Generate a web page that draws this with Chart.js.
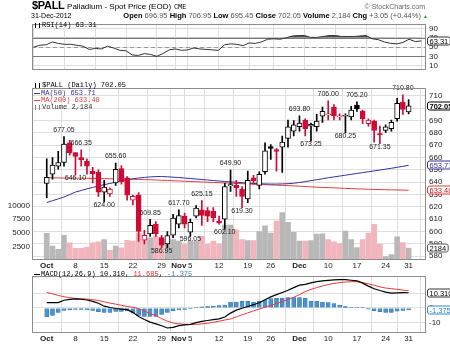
<!DOCTYPE html>
<html><head><meta charset="utf-8">
<script src="https://cdn.jsdelivr.net/npm/chart.js@4.4.0/dist/chart.umd.min.js"></script>
<style>
body{margin:0;background:#fff;width:450px;height:344px;overflow:hidden;position:relative;font-family:"Liberation Sans",Arial,sans-serif;color:#000;}
canvas{position:absolute;left:0;}
.t{position:absolute;white-space:nowrap;line-height:1;z-index:5;}
.mono{font-family:"Liberation Mono","DejaVu Sans Mono",monospace;}
.v{color:#555;font-weight:normal;}
.dash{display:inline-block;width:6px;height:0;border-top:1px solid;vertical-align:middle;margin-right:1px;}
.ico{display:inline-block;width:3px;height:5px;border-left:1px solid #000;border-right:1px solid #000;margin-right:2px;vertical-align:middle;}
</style></head><body>
<div class="t" style="left:32px;top:0px;font-size:11px;font-weight:bold;letter-spacing:-0.3px">$PALL <span style="font-size:8px;font-weight:normal;letter-spacing:0">Palladium - Spot Price (EOD)</span> <span class="mono" style="font-size:7px;font-weight:normal;letter-spacing:0">CME</span></div>
<div class="t" style="right:25px;top:3px;font-size:7px;color:#666">© StockCharts.com</div>
<div class="t" style="left:31px;top:12px;font-size:7px">31-Dec-2012</div>
<div class="t" style="right:22px;top:12px;font-size:7.5px;font-weight:bold">Open <span class="v">696.95</span> High <span class="v">706.95</span> Low <span class="v">695.45</span> Close <span class="v">702.05</span> Volume <span class="v">2,184</span> Chg <span class="v">+3.05 (+0.44%)</span> <span style="color:#2a2;font-size:5px">▲</span></div>
<div class="t mono" style="left:35px;top:22px;font-size:7px"><span class="ico"></span>RSI(14) 63.31</div>
<div class="t mono" style="left:35px;top:82px;font-size:7px"><span class="ico"></span>$PALL (Daily) 702.05</div>
<div class="t mono" style="left:34px;top:90px;font-size:7px;color:#33339a"><span class="dash"></span>MA(50) 653.71</div>
<div class="t mono" style="left:34px;top:97px;font-size:7px;color:#e03c3c"><span class="dash"></span>MA(200) 633.48</div>
<div class="t mono" style="left:35px;top:104px;font-size:7px;color:#333"><span class="ico" style="border-color:#888"></span>Volume 2,184</div>
<div class="t mono" style="left:34px;top:271px;font-size:7px"><span class="dash"></span>MACD(12,26,9) 10.310, <span style="color:#e03030">11.685</span>, <span style="color:#3a86c8">-1.375</span></div>

<canvas id="rsi" width="450" height="78" style="top:0"></canvas>
<canvas id="price" width="450" height="195" style="top:80px"></canvas>
<canvas id="macd" width="450" height="76" style="top:268px"></canvas>

<script>
// ---- Data (Oct 1 - Dec 31 2012 trading days) ----
const tickIdx    = [0,5,10,15,20,23,25,30,35,39,44,49,54,59,63];
const tickLabels = ['Oct','8','15','22','29','Nov','5','12','19','26','Dec','10','17','24','31'];

const openP = [639,646.5,653,656,672,664,660,657,649,648,
  632,630.5,639.5,651,643.5,625.5,629.5,593,598,606,
  595,590,597,606,612.5,599.5,612.5,617.5,617,616.5,
  608.5,610,637,637.5,634.5,626.5,643.5,637.5,648.5,669,
  666.5,668.5,675.5,681.5,685,690.5,685.5,685,693.5,694.5,
  701,693,693.5,693,702.5,697.5,687.5,689.5,679.5,682,
  683.5,691.5,705,696.95];
const highP = [659,660,665,677.05,674,664,666.35,659,652,650,
  641.5,635.5,655.6,653.5,644.5,629.5,631.5,601,609.85,608,
  597,600,614,617.7,615,610,621,625.15,619.5,619.5,
  612.5,639,649.9,641.5,636.5,649,645.5,648.5,672,670.5,
  667.5,677.5,690.5,690,693.8,691.5,688,695,701,706,
  703,695.5,695.5,701.5,705.2,698.5,691.5,690.5,685.5,686.5,
  690.5,708,710.8,706.95];
const lowP = [627.5,642.5,650.5,653,662,646.1,653,646.5,639.5,628.5,
  624,628.5,637.5,638.5,625.5,621.5,592,590,596,596,
  586.95,587,595,603,603,596.05,611,605,608,608,
  606,602.1,632.5,628.5,619.3,623.5,638.5,634.5,646.5,658.5,
  649,648,668.5,677.5,681.5,677.5,673.25,681.5,688.5,690.5,
  690.5,690.5,680.25,690.5,697.5,687.5,685.5,672.5,671.35,680.5,
  681.5,689.5,695,695.45];
const closeP = [644,654,656,671,664,661,658,653,647,632,
  636,634.5,650.5,640.5,629.5,628.5,600,597,605,598,
  589,596.8,611,613,606,607.5,619,613,612.5,611,
  607,636.5,638,635.5,628.5,641.5,641.3,646.5,665.5,667.5,
  665,672.5,685,686.5,688,683.5,687,689.5,697.5,695.5,
  694,693.5,694,698.5,699.5,691.5,690.5,682,678.5,685,
  688.5,704,699,702.05];
const volume = [4900,2550,1960,4520,3150,2140,2140,2370,3150,3330,
  3750,1790,2550,2250,3620,3450,4930,3560,4050,4340,
  3750,3750,3750,3450,2860,3450,3450,4340,2860,3450,
  2860,6430,6430,5540,3750,3570,3570,5230,6250,4930,
  7140,8680,6900,5100,3450,3450,3570,4750,4810,3750,
  3330,2980,5300,3750,2270,3750,4930,6550,2860,640,
  1000,4270,3200,2184];
const ma50 = [623.5,625,626.5,628,630,632,633.3,634.6,635.8,637,
  638,639,640,641,642,642.8,643.4,643.9,644.3,644.6,
  644.6,644.4,644.1,643.8,643.4,643,642.6,642.2,641.8,641.4,
  641,640.6,640.3,640,639.6,639.3,639,638.8,638.6,638.5,
  638.5,638.6,638.8,639.2,639.8,640.5,641.3,642,642.8,643.6,
  644.3,645,645.7,646.4,647.1,647.8,648.5,649.2,649.9,650.6,
  651.3,652.1,652.9,653.71];
const ma200 = [643.6,643.5,643.5,643.4,643.4,643.3,643.3,643.2,643.1,643,
  642.9,642.8,642.7,642.6,642.5,642.4,642.3,642.1,642,641.8,
  641.6,641.4,641.2,641,640.8,640.6,640.4,640.2,640,639.8,
  639.6,639.4,639.2,639,638.8,638.6,638.4,638.2,638,637.8,
  637.6,637.4,637.2,637,636.8,636.5,636.2,636,635.8,635.6,
  635.4,635.2,635,634.8,634.6,634.5,634.3,634.2,634,633.9,
  633.8,633.7,633.6,633.48];
const rsi = [50,54,55,61,58,56,56,54,52,45,
  47,46,52,48,43,42,33,32,36,34,
  30,36,44,46,43,44,48,46,45,44,
  43,55,57,56,53,59,58,61,67,68,
  67,70,74,75,75,71,71,73,75,75,
  73,73,73,74,75,68,66,61,58,57,
  60,67,62,63.31];
const macd = [3.6,3.6,3.6,5.2,5.8,6.1,5.9,5.4,4.4,3.2,
  1.2,0.3,-0.4,-0.8,-1.2,-3,-5.8,-7.8,-9.6,-10.8,
  -12.1,-13.6,-13.2,-12,-11.5,-11.1,-10,-9.1,-8.5,-7.9,
  -7.4,-6.2,-3.5,-1.5,-0.2,1,2.2,3.5,5.5,7.5,
  9,10.5,12,13.8,15.5,16,17,17.8,18.3,18.7,
  19,19.2,19.2,18.8,18.3,16.8,14.8,13,11.8,10.7,
  10,10.2,10.4,10.31];
const signal = [10.5,9.6,8.5,7.6,6.9,6.5,6.3,6,5.6,5,
  4.2,3.3,2.6,1.8,1,0.5,-0.6,-2.1,-3.9,-5.2,
  -7.2,-9,-10.2,-10.8,-11.1,-11.2,-11.1,-10.8,-10.4,-9.7,
  -9,-8.2,-7.5,-6,-4.7,-3.4,-2,-0.7,0.5,1.8,
  3,4.3,5.8,7.2,9,11.1,12.6,13.8,14.9,15.9,
  16.6,17.2,17.6,17.8,17.8,17.2,16.4,15.4,14.3,13.5,
  13.1,12.6,12.1,11.685];
const hist = [-6.1,-5.1,-3,-1.6,-1.2,-1,-1,-1.4,-1.6,-2.6,
  -3,-3,-2.4,-2.4,-2,-3.6,-5.1,-5.7,-5.7,-5.7,
  -4.4,-3,-2,-1.4,-1,-0.6,0.4,0.8,1,1.2,
  1.6,2,4,4,4.4,4.4,4,4.4,5.5,6.3,
  6.5,6.7,7.1,7.1,7.1,6.5,4.6,4.4,4,3.6,
  3,2,1,0.4,0.4,0.1,-0.8,-1.8,-2.6,-3,
  -3,-2.2,-1.6,-1.375];
// high/low annotations
const hlIdx  = [3,5,6,10,12,18,20,23,25,27,31,32,34,44,46,49,52,54,58,62];
const hlVal  = [677.05,646.10,666.35,624.00,655.60,609.85,586.95,617.70,596.05,625.15,602.10,649.90,619.30,693.80,673.25,706.00,680.25,705.20,671.35,710.80];
const hlType = ['H','L','H','L','H','H','L','H','L','H','L','H','L','H','L','H','L','H','L','H'];
const priceTicks = [580,590,600,610,620,630,640,650,660,670,680,690,700,710];
const volTicks = [2500,5000,7500,10000];
const rsiTicks = [10,30,50,70,90];
const rsiLevels = [30,50,70];
const macdTicks = [-10,0,10];

// ---- derived styling ----
const N = closeP.length;
const idx = [...Array(N).keys()];
const up = idx.map(i => i === 0 || closeP[i] >= closeP[i-1]);
const hollow = idx.map(i => closeP[i] >= openP[i]);
const RED = '#d10a35';
const cCol = idx.map(i => up[i] ? '#000' : RED);
const bFill = idx.map(i => hollow[i] ? '#fff' : cCol[i]);
const vCol = idx.map(i => up[i] ? '#b8b8b8' : '#f2b4bd');
const X_MIN = -0.28, X_MAX = 63.74;
const GRID = '#dedede';
const FONT = 'Liberation Sans';

function xScale(labels, h) {
  return {
    type: 'linear', min: X_MIN, max: X_MAX,
    afterBuildTicks: s => { s.ticks = tickIdx.map(v => ({value: v})); },
    afterFit: s => { s.height = h; },
    grid: { color: GRID, drawTicks: false },
    border: { display: false },
    ticks: { display: labels, padding: 1, autoSkip: false, maxRotation: 0, color: '#222',
      font: c => ({ family: FONT, size: 8, weight: /[A-Z]/.test(tickLabels[c.index] || '') ? 'bold' : 'normal' }),
      callback: (v, i) => tickLabels[i] }
  };
}
function yRight(min, max, ticks, grid) {
  return {
    position: 'right', min, max,
    afterBuildTicks: s => { s.ticks = ticks.map(v => ({value: v})); },
    afterFit: s => { s.width = 24; },
    grid: { color: GRID, drawTicks: false, display: grid },
    border: { display: false },
    ticks: { padding: 3, autoSkip: false, color: '#222', font: { family: FONT, size: 8 }, callback: v => String(v) }
  };
}
const frame = { id: 'frame', afterDraw(ch) {
  const a = ch.chartArea, c = ch.ctx;
  c.save(); c.strokeStyle = '#8c8c8c'; c.lineWidth = 1;
  c.strokeRect(Math.round(a.left) + 0.5, Math.round(a.top) + 0.5, Math.round(a.right - a.left) - 1, Math.round(a.bottom - a.top) - 1);
  c.restore();
}};
const vbox = { id: 'vbox', afterDraw(ch, args, opts) {
  const c = ch.ctx;
  (opts.items || []).forEach(it => {
    const y = ch.scales[it.axis].getPixelForValue(it.value);
    c.save();
    c.font = (it.bold ? 'bold ' : '') + '7.5px ' + FONT;
    const w = Math.max(c.measureText(it.text).width + 4, 18);
    const x = ch.chartArea.right + 1.5;
    c.beginPath(); c.roundRect(x, Math.round(y) - 4, w, 8, 2);
    c.fillStyle = '#fff'; c.fill();
    c.strokeStyle = it.color; c.lineWidth = 1; c.stroke();
    c.fillStyle = it.textColor || '#000'; c.textBaseline = 'middle'; c.textAlign = 'left';
    c.fillText(it.text, x + 2, Math.round(y) + 0.5);
    c.restore();
  });
}};
const common = { responsive: false, animation: false, events: [],
  plugins: { legend: { display: false }, tooltip: { enabled: false } } };

// ---- RSI ----
const rsiRef = { id: 'rsiRef', beforeDatasetsDraw(ch) {
  const c = ch.ctx, a = ch.chartArea, s = ch.scales.y;
  rsiLevels.forEach(l => {
    const y = Math.round(s.getPixelForValue(l)) + 0.5;
    c.save(); c.strokeStyle = l === 50 ? '#9a9a9a' : '#7a7a7a'; c.lineWidth = 1;
    if (l === 50) c.setLineDash([4, 3]);
    c.beginPath(); c.moveTo(a.left, y); c.lineTo(a.right, y); c.stroke(); c.restore();
  });
}};
new Chart(document.getElementById('rsi'), {
  type: 'line',
  data: { datasets: [{ data: idx.map(i => ({x: i, y: rsi[i]})), borderColor: '#333', borderWidth: 1,
    pointRadius: 0, tension: 0, fill: { target: { value: 70 }, above: '#555', below: 'rgba(0,0,0,0)' } }] },
  options: { ...common, layout: { padding: { top: 24, left: 32, right: 0, bottom: 0 } },
    scales: { x: xScale(false, 0), y: yRight(0, 100, rsiTicks, true) },
    plugins: { ...common.plugins, vbox: { items: [{ axis: 'y', value: rsi[N-1], text: rsi[N-1].toFixed(2), color: '#333' }] } } },
  plugins: [rsiRef, frame, vbox]
});

// ---- Price ----
const hiLo = { id: 'hiLo', afterDatasetsDraw(ch) {
  const c = ch.ctx, xs = ch.scales.x, ys = ch.scales.y;
  c.save(); c.font = '7px ' + FONT; c.fillStyle = '#222'; c.textAlign = 'center';
  hlIdx.forEach((ix, k) => {
    const x = xs.getPixelForValue(ix), y = ys.getPixelForValue(hlVal[k]);
    if (hlType[k] === 'H') { c.textBaseline = 'bottom'; c.fillText(hlVal[k].toFixed(2), x, y - 3); }
    else { c.textBaseline = 'top'; c.fillText(hlVal[k].toFixed(2), x, y - 0.5); }
  });
  c.restore();
}};
new Chart(document.getElementById('price'), {
  type: 'bar',
  data: { datasets: [
    { type: 'bar', data: idx.map(i => ({x: i, y: [openP[i], closeP[i]]})), backgroundColor: bFill, borderColor: cCol,
      borderWidth: 1, borderSkipped: false, barThickness: 5, minBarLength: 1, grouped: false, yAxisID: 'y', order: 1 },
    { type: 'bar', data: idx.map(i => ({x: i, y: [lowP[i], highP[i]]})), backgroundColor: cCol,
      barThickness: 1, grouped: false, yAxisID: 'y', order: 2 },
    { type: 'line', data: idx.map(i => ({x: i, y: ma50[i]})), borderColor: '#33339a', borderWidth: 1, pointRadius: 0, yAxisID: 'y', order: 3 },
    { type: 'line', data: idx.map(i => ({x: i, y: ma200[i]})), borderColor: '#e03c3c', borderWidth: 1, pointRadius: 0, yAxisID: 'y', order: 3 },
    { type: 'bar', data: idx.map(i => ({x: i, y: volume[i]})), backgroundColor: vCol, barThickness: 5, grouped: false, yAxisID: 'vol', order: 5 }
  ]},
  options: { ...common, layout: { padding: { top: 3, left: 0, right: 0, bottom: 0 } },
    scales: {
      x: xScale(true, 15),
      y: yRight(576.9, 716.6, priceTicks, true),
      vol: { position: 'left', min: 0, max: 31600,
        afterBuildTicks: s => { s.ticks = volTicks.map(v => ({value: v})); },
        afterFit: s => { s.width = 32; },
        grid: { drawOnChartArea: false, drawTicks: false }, border: { display: false },
        ticks: { padding: 2, autoSkip: false, color: '#222', font: { family: FONT, size: 8 }, callback: v => String(v) } }
    },
    plugins: { ...common.plugins, vbox: { items: [
      { axis: 'y', value: closeP[N-1], text: closeP[N-1].toFixed(2), color: '#000', bold: true },
      { axis: 'y', value: ma50[N-1], text: ma50[N-1].toFixed(2), color: '#33339a', textColor: '#33339a' },
      { axis: 'y', value: ma200[N-1], text: ma200[N-1].toFixed(2), color: '#e03c3c', textColor: '#c02020' },
      { axis: 'vol', value: volume[N-1], text: String(volume[N-1]), color: '#555' }
    ] } } },
  plugins: [frame, hiLo, vbox]
});

// ---- MACD ----
new Chart(document.getElementById('macd'), {
  type: 'bar',
  data: { datasets: [
    { type: 'line', data: idx.map(i => ({x: i, y: macd[i]})), borderColor: '#000', borderWidth: 1.2, pointRadius: 0, order: 1 },
    { type: 'line', data: idx.map(i => ({x: i, y: signal[i]})), borderColor: '#e83a3a', borderWidth: 1, pointRadius: 0, order: 2 },
    { type: 'bar', data: idx.map(i => ({x: i, y: hist[i]})), backgroundColor: '#4b93cc', borderColor: '#2f6fa6', borderWidth: 0.5,
      barThickness: 4, grouped: false, order: 3 }
  ]},
  options: { ...common, layout: { padding: { top: 1, left: 32, right: 0, bottom: 0 } },
    scales: { x: xScale(true, 11), y: yRight(-17, 21.8, macdTicks, true) },
    plugins: { ...common.plugins, vbox: { items: [
      { axis: 'y', value: macd[N-1], text: macd[N-1].toFixed(3), color: '#333' },
      { axis: 'y', value: hist[N-1], text: hist[N-1].toFixed(3), color: '#3a86c8', textColor: '#3a86c8' }
    ] } } },
  plugins: [frame, vbox]
});
</script>
</body></html>
